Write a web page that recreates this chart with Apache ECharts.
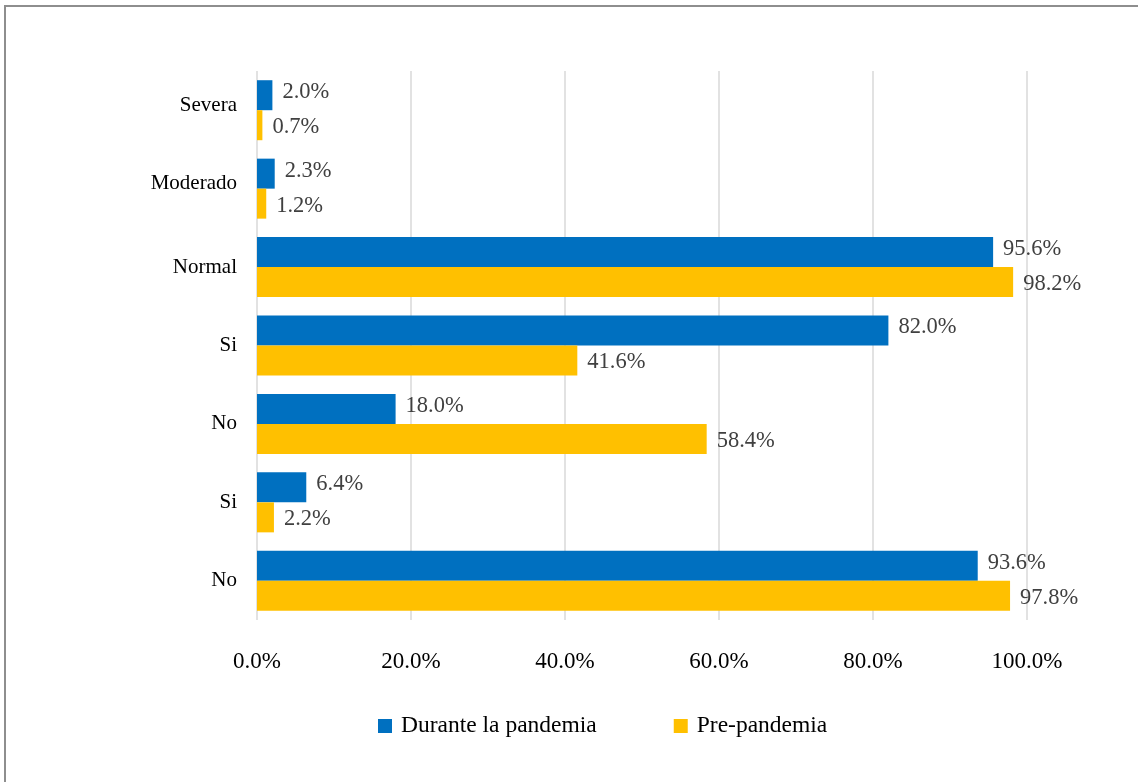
<!DOCTYPE html>
<html>
<head>
<meta charset="utf-8">
<script src="https://cdn.jsdelivr.net/npm/echarts@6/dist/echarts.min.js"></script>
<style>
  html, body { margin: 0; padding: 0; background: #fff; }
  #frame { position: absolute; left: 4px; top: 5px; width: 1200px; height: 800px;
           border-top: 2px solid #8e8e8e; border-left: 2px solid #8e8e8e; }
  #chart { position: absolute; left: 0; top: 0; width: 1138px; height: 782px; }
</style>
</head>
<body>
<div id="frame"></div>
<div id="chart"></div>
<script>
// Categories listed bottom to top along the vertical axis
const categories = ['No', 'Si', 'No', 'Si', 'Normal', 'Moderado', 'Severa'];
const seriesNames = ['Durante la pandemia', 'Pre-pandemia'];
const duranteValues = [93.6, 6.4, 18.0, 82.0, 95.6, 2.3, 2.0];
const preValues = [97.8, 2.2, 58.4, 41.6, 98.2, 1.2, 0.7];
const tickValues = [0, 20, 40, 60, 80, 100];

const FONT = '"Liberation Serif", "Times New Roman", serif';
const BLUE = '#0070C0';
const GOLD = '#FFC000';

const chart = echarts.init(document.getElementById('chart'), null, { renderer: 'canvas' });

function labelFor(offsetY) {
  return {
    show: true,
    position: 'right',
    distance: 10,
    offset: [0, offsetY],
    color: '#404040',
    fontFamily: FONT,
    fontSize: 22.5,
    formatter: p => p.value.toFixed(1) + '%'
  };
}

chart.setOption({
  animation: false,
  backgroundColor: 'transparent',
  textStyle: { fontFamily: FONT },
  grid: { left: 257, right: 111, top: 71, bottom: 162, containLabel: false },
  legend: {
    data: seriesNames,
    bottom: 44,
    left: 378,
    padding: 0,
    itemWidth: 14,
    itemHeight: 14,
    itemGap: 77,
    icon: 'rect',
    textStyle: { fontFamily: FONT, fontSize: 23.5, color: '#000', padding: [0, 0, 0, 4] }
  },
  xAxis: {
    type: 'value',
    min: 0,
    max: 100,
    interval: 20,
    axisLine: { show: false },
    axisTick: { show: false },
    splitLine: { show: true, lineStyle: { color: '#d9d9d9', width: 1.5 } },
    axisLabel: {
      margin: 30,
      color: '#000',
      fontFamily: FONT,
      fontSize: 23,
      formatter: v => tickValues.includes(v) ? v.toFixed(1) + '%' : ''
    }
  },
  yAxis: {
    type: 'category',
    data: categories,
    axisLine: { show: false },
    axisTick: { show: false },
    axisLabel: {
      margin: 20,
      color: '#000',
      fontFamily: FONT,
      fontSize: 21,
      // the two severity labels sit slightly above their band centre
      formatter: (v, i) => (i >= 5 ? '{up|' + v + '}' : v),
      rich: { up: { fontFamily: FONT, fontSize: 21, color: '#000', padding: [0, 0, 10, 0] } }
    }
  },
  series: [
    {
      name: seriesNames[0],
      type: 'bar',
      data: duranteValues,
      itemStyle: { color: BLUE },
      barGap: '0%',
      barCategoryGap: '23.5%',
      label: labelFor(-3)
    },
    {
      name: seriesNames[1],
      type: 'bar',
      data: preValues,
      itemStyle: { color: GOLD },
      barGap: '0%',
      barCategoryGap: '23.5%',
      label: labelFor(2)
    }
  ]
});
</script>
</body>
</html>
